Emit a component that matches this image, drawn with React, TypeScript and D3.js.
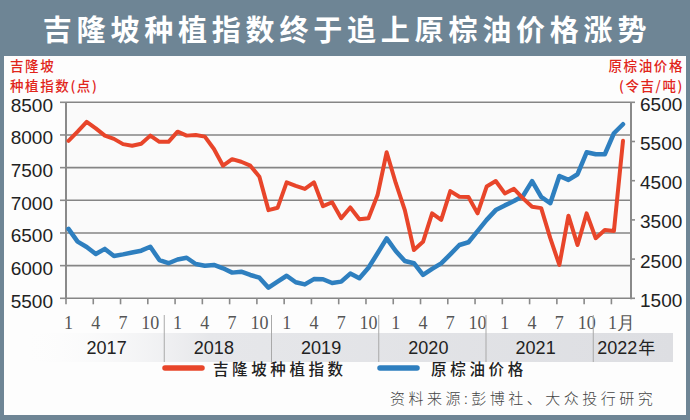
import * as d3 from 'd3';

// Jan 2017 .. Feb 2022, one point per month
const monthKeys = d3
  .timeMonths(new Date(2017, 0, 1), new Date(2022, 2, 1))
  .map(d3.timeFormat('%Y-%m'));

// 吉隆坡种植指数 (点)
const plantationIndex = [
  7910, 8050, 8200, 8100, 7990, 7940, 7860, 7835, 7865, 7990, 7895, 7895,
  8050, 7990, 8000, 7975, 7785, 7530, 7630, 7590, 7530, 7360, 6850, 6885,
  7275, 7220, 7175, 7275, 6910, 6970, 6725, 6890, 6710, 6725, 7080, 7735,
  7265, 6850, 6240, 6365, 6800, 6700, 7140, 7055, 7050, 6800, 7210, 7295,
  7105, 7175, 7030, 6900, 6880, 6420, 6010, 6765, 6315, 6800, 6420, 6545,
  6530, 7910,
];

// 原棕油价格 (令吉/吨)
const cpoPrice = [
  3270, 2945, 2810, 2630, 2760, 2580, 2620, 2670, 2715, 2815, 2475, 2395,
  2490, 2535, 2375, 2330, 2350, 2265, 2155, 2180, 2095, 2025, 1770, 1925,
  2075, 1910, 1855, 1990, 1985, 1890, 1925, 2130, 2010, 2280, 2650, 3030,
  2705, 2450, 2395, 2095, 2250, 2390, 2620, 2860, 2930, 3215, 3500, 3750,
  3870, 3980, 4110, 4490, 4085, 3925, 4620, 4520, 4665, 5225, 5175, 5175,
  5710, 5940,
];

const leftTicks = [5500, 6000, 6500, 7000, 7500, 8000, 8500];
const rightTicks = [1500, 2500, 3500, 4500, 5500, 6500];
const tickMonths = monthKeys.filter((k) => [1, 4, 7, 10].includes(+k.slice(5)));
const years = ['2017', '2018', '2019', '2020', '2021', '2022'];

const RED = '#e8452a';
const BLUE = '#2e7fbf';
const FRAME = '#6e8595';
const CJK = '"Noto Sans CJK SC", "Noto Sans", sans-serif';

const App = () => {
  const width = 690;
  const height = 420;
  const left = 66;
  const right = 631;
  const top = 102.3;
  const bottom = 298.3;

  const x = d3.scalePoint<string>().domain(monthKeys).range([68.5, 623]);
  const yL = d3.scaleLinear().domain([5500, 8500]).range([bottom, top]);
  const yR = d3.scaleLinear().domain([1500, 6500]).range([bottom, top]);
  const yearBand = d3.scaleBand<string>().domain(years).range([57, 700.5]);

  const redLine = d3
    .line<number>()
    .x((_, i) => x(monthKeys[i])!)
    .y((d) => yL(d));
  const blueLine = d3
    .line<number>()
    .x((_, i) => x(monthKeys[i])!)
    .y((d) => yR(d));

  return (
    <svg
      width={width}
      height={height}
      style={{ position: 'absolute', left: 0, top: 0, display: 'block' }}
    >
      <defs>
        <linearGradient id="band" x1="0" x2="1" y1="0" y2="0">
          <stop offset="0" stopColor="#ffffff" stopOpacity="0" />
          <stop offset="0.3" stopColor="#e6e7ea" />
          <stop offset="1" stopColor="#dddee2" />
        </linearGradient>
      </defs>

      {/* frame + title bar */}
      <rect x={0} y={0} width={width} height={height} fill={FRAME} />
      <rect x={4} y={56} width={width - 8} height={height - 61} fill="#fdfdfd" />
      <text
        x={347}
        y={41}
        textAnchor="middle"
        fill="#fff"
        fontFamily={CJK}
        fontWeight={700}
        fontSize={29}
        letterSpacing={4.8}
      >
        吉隆坡种植指数终于追上原棕油价格涨势
      </text>

      {/* axis titles */}
      <g fontFamily={CJK} fontSize={13.5} fontWeight={500} fill="#e1251b">
        <text x={10} y={71} letterSpacing={1.6}>吉隆坡</text>
        <text x={10} y={91} letterSpacing={1.6}>种植指数(点)</text>
        <text x={684} y={71} textAnchor="end" letterSpacing={1.6}>原棕油价格</text>
        <text x={684} y={91} textAnchor="end" letterSpacing={1.6}>(令吉/吨)</text>
      </g>

      {/* plot background */}
      <rect x={left} y={top} width={right - left} height={bottom - top} fill="#fafafa" />

      {/* grid lines */}
      {leftTicks.map((t) => (
        <line
          key={t}
          x1={left}
          x2={right}
          y1={yL(t)}
          y2={yL(t)}
          stroke="#858585"
          strokeWidth={1.6}
        />
      ))}

      {/* left axis */}
      <line x1={left} x2={left} y1={top} y2={bottom + 1} stroke="#8a8a8a" strokeWidth={2} />
      {leftTicks.map((t) => (
        <g key={t}>
          <line x1={left - 6} x2={left} y1={yL(t)} y2={yL(t)} stroke="#8a8a8a" strokeWidth={1.6} />
          <text
            x={53}
            y={yL(t) + 3}
            textAnchor="end"
            dominantBaseline="central"
            fontFamily="Liberation Sans, Arial, sans-serif"
            fontSize={19}
            fill="#222"
          >
            {t}
          </text>
        </g>
      ))}

      {/* right axis */}
      <line x1={right} x2={right} y1={top} y2={bottom + 1} stroke="#8a8a8a" strokeWidth={2} />
      {rightTicks.map((t) => (
        <g key={t}>
          <line x1={right} x2={right + 4} y1={yR(t)} y2={yR(t)} stroke="#8a8a8a" strokeWidth={1.6} />
          <text
            x={640}
            y={yR(t) + 2}
            dominantBaseline="central"
            fontFamily="Liberation Sans, Arial, sans-serif"
            fontSize={19}
            fill="#222"
          >
            {t}
          </text>
        </g>
      ))}

      {/* bottom ticks and month labels */}
      {tickMonths.map((k) => {
        const px = x(k)!;
        const m = +k.slice(5);
        const label = k === '2022-01' ? '1月' : String(m);
        return (
          <g key={k}>
            <line x1={px - 2.5} x2={px - 2.5} y1={bottom} y2={bottom + 6} stroke="#8a8a8a" strokeWidth={1.6} />
            <text
              x={k === '2022-01' ? px - 6 : px}
              y={329}
              textAnchor={k === '2022-01' ? 'start' : 'middle'}
              fontFamily="Liberation Serif, serif"
              fontSize={18}
              fill="#555"
            >
              {label}
            </text>
          </g>
        );
      })}

      {/* year band */}
      <rect x={10} y={333} width={663} height={29} fill="url(#band)" />
      {years.slice(1).map((yr) => (
        <line
          key={yr}
          x1={yearBand(yr)!}
          x2={yearBand(yr)!}
          y1={315}
          y2={362}
          stroke="#a9a9a9"
          strokeWidth={1}
        />
      ))}
      {years.map((yr) => {
        const last = yr === '2022';
        return (
          <text
            key={yr}
            x={last ? yearBand(yr)! + 4 : yearBand(yr)! + yearBand.bandwidth() / 2 - 4}
            y={354}
            textAnchor={last ? 'start' : 'middle'}
            fontFamily="Liberation Sans, Arial, sans-serif"
            fontSize={18}
            fill="#222"
          >
            {yr}
            {last && (
              <tspan fontFamily={CJK} fontSize={17} dx={1}>
                年
              </tspan>
            )}
          </text>
        );
      })}

      {/* series */}
      <path
        d={blueLine(cpoPrice)!}
        fill="none"
        stroke={BLUE}
        strokeWidth={4.5}
        strokeLinejoin="round"
        strokeLinecap="round"
      />
      <path
        d={redLine(plantationIndex)!}
        fill="none"
        stroke={RED}
        strokeWidth={4}
        strokeLinejoin="round"
        strokeLinecap="round"
      />

      {/* legend */}
      <line x1={165} x2={202} y1={368} y2={368} stroke={RED} strokeWidth={5.5} strokeLinecap="round" />
      <text x={213} y={375} fontFamily={CJK} fontSize={15.5} fontWeight={500} letterSpacing={3.6} fill="#222">
        吉隆坡种植指数
      </text>
      <line x1={380} x2={417} y1={368} y2={368} stroke={BLUE} strokeWidth={5.5} strokeLinecap="round" />
      <text x={431} y={375} fontFamily={CJK} fontSize={15.5} fontWeight={500} letterSpacing={3.7} fill="#222">
        原棕油价格
      </text>

      {/* source */}
      <text x={390} y={404} fontFamily={CJK} fontSize={15} fontWeight={300} letterSpacing={3.5} fill="#444">
        资料来源:彭博社、大众投行研究
      </text>
    </svg>
  );
};

export default App;
